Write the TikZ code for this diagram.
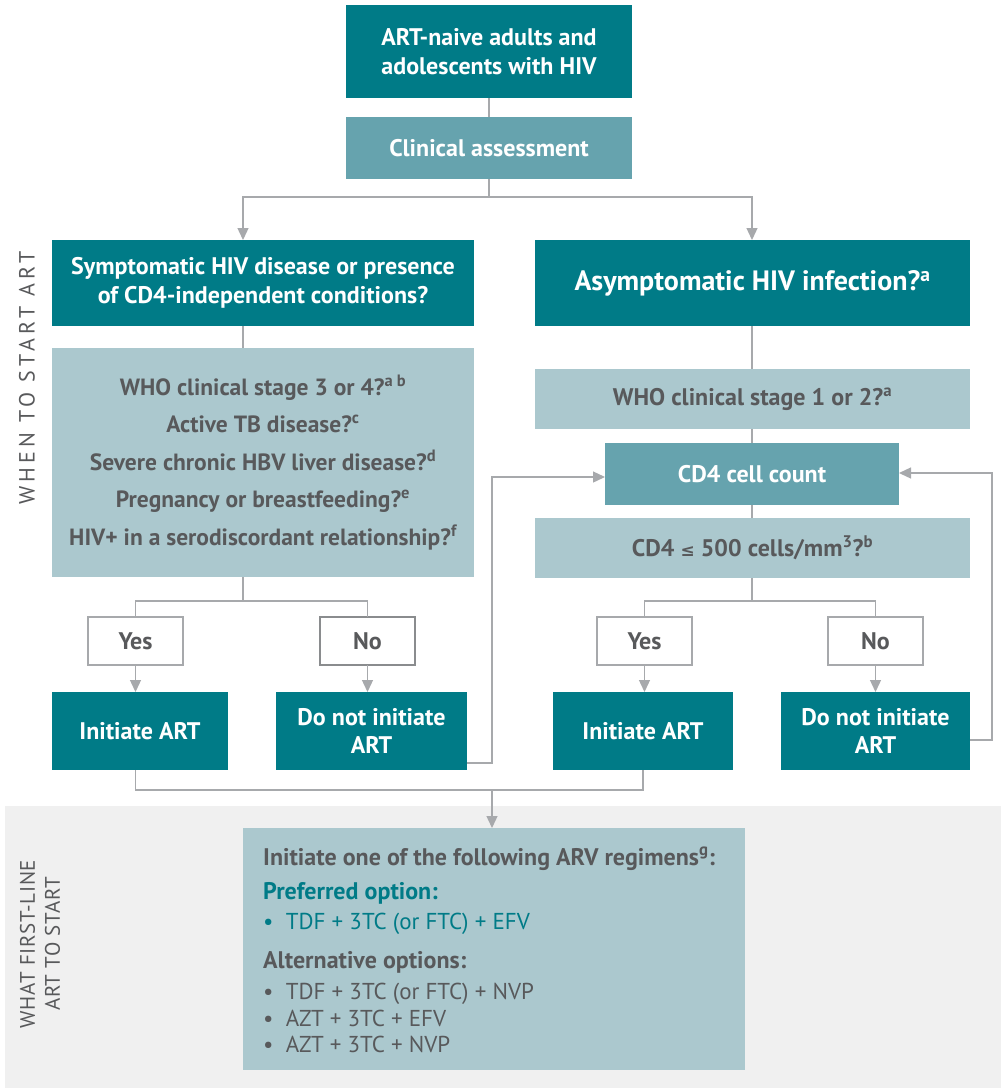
\documentclass[tikz,border=0pt]{standalone}
\usepackage{fontspec}
\setmainfont{PT Sans}
\newfontfamily\condfont{PT Sans}
\newfontfamily\spacedfont[LetterSpace=19]{PT Sans}
\newfontfamily\spacedfontb[LetterSpace=3]{PT Sans}
\newfontfamily\djv{DejaVu Sans}
\usetikzlibrary{arrows.meta}
\definecolor{dteal}{HTML}{007B87}
\definecolor{mteal}{HTML}{66A3AE}
\definecolor{lteal}{HTML}{ABC8CE}
\definecolor{tgrey}{HTML}{58595B}
\definecolor{lgrey}{HTML}{A7A9AC}
\definecolor{mgrey}{HTML}{8A8C8E}
\definecolor{bggrey}{HTML}{F0F0F0}
\begin{document}
\begin{tikzpicture}[x=1pt,y=-1pt,
  base/.style={inner sep=0pt, outer sep=0pt, align=center},
  dark/.style={base, fill=dteal, text=white, font=\bfseries\fontsize{24}{29.5}\selectfont},
  mid/.style={base, fill=mteal, text=white, font=\bfseries\fontsize{24}{29}\selectfont},
  light/.style={base, fill=lteal, text=tgrey, font=\bfseries\fontsize{23.5}{37.5}\selectfont},
  yn/.style={base, fill=white, draw=lgrey, line width=1.2pt, text=tgrey, font=\bfseries\fontsize{24}{28}\selectfont, minimum width=95pt, minimum height=48pt},
  conn/.style={draw=lgrey, line width=1.3pt},
  arr/.style={conn, -{Triangle[length=12pt,width=11pt]}},
  side/.style={base, rotate=90, text=tgrey, font=\spacedfont\fontsize{22}{24}\selectfont},
  sideb/.style={base, rotate=90, text=tgrey, font=\spacedfontb\fontsize{21}{25}\selectfont},
  btxt/.style={anchor=base west, inner sep=0pt, font=\condfont\fontsize{23}{27}\selectfont},
  bhead/.style={btxt, font=\condfont\bfseries\fontsize{24}{28}\selectfont},
]
\useasboundingbox (0,0) rectangle (1001,1088);

% background panel for bottom section
\fill[bggrey] (5,806) rectangle (1001,1088);

% side labels
\node[side] (lab1) at (27,378) {WHEN TO START ART};
\node[sideb] (lab2) at (40,944) {WHAT FIRST-LINE\\ART TO START};

% top
\node[dark, minimum width=286pt, minimum height=93pt] (top) at (489,51.5) {ART-naive adults and\\adolescents with HIV};
\node[mid, minimum width=286pt, minimum height=62pt] (clin) at (489,148) {Clinical assessment};

% second level
\node[dark, minimum width=422pt, minimum height=86pt, font=\bfseries\fontsize{24}{29}\selectfont] (lq) at (263,283) {Symptomatic HIV disease or presence\\of CD4-independent conditions?};
\node[dark, minimum width=435pt, minimum height=86pt, font=\bfseries\fontsize{28}{32}\selectfont] (rq) at (752.5,283) {Asymptomatic HIV infection?\textsuperscript{a}};

% left big box
\node[light, minimum width=422pt, minimum height=229pt] (bigl) at (263,462.5) {WHO clinical stage 3 or 4?\textsuperscript{a b}\\Active TB disease?\textsuperscript{c}\\Severe chronic HBV liver disease?\textsuperscript{d}\\Pregnancy or breastfeeding?\textsuperscript{e}\\HIV+ in a serodiscordant relationship?\textsuperscript{f}};

% right column
\node[light, minimum width=435pt, minimum height=60pt, font=\bfseries\fontsize{24}{28}\selectfont] (who) at (752.5,399) {WHO clinical stage 1 or 2?\textsuperscript{a}};
\node[mid, minimum width=294pt, minimum height=62pt] (cd4) at (752,474) {CD4 cell count};
\node[light, minimum width=435pt, minimum height=60pt, font=\bfseries\fontsize{24}{28}\selectfont] (cdle) at (752.5,548) {CD4 {\djv\bfseries\fontsize{17}{20}\selectfont ≤} 500 cells/mm\textsuperscript{3}?\textsuperscript{b}};

% yes/no
\node[yn] (yesl) at (135.5,641) {Yes};
\node[yn, draw=mgrey] (nol) at (367.5,641) {No};
\node[yn] (yesr) at (644.5,641) {Yes};
\node[yn] (nor) at (875.5,641) {No};

% outcomes
\node[dark, minimum width=176pt, minimum height=78pt] (initl) at (140,731) {Initiate ART};
\node[dark, minimum width=191pt, minimum height=78pt, font=\bfseries\fontsize{24}{28}\selectfont] (dnl) at (371.5,731) {Do not initiate\\ART};
\node[dark, minimum width=180pt, minimum height=78pt] (initr) at (643,731) {Initiate ART};
\node[dark, minimum width=189pt, minimum height=78pt, font=\bfseries\fontsize{24}{28}\selectfont] (dnr) at (875.5,731) {Do not initiate\\ART};

% bottom box
\node[base, fill=lteal, minimum width=502pt, minimum height=242pt] (bot) at (494,949) {};
\node[bhead, text=tgrey] (b1) at (263,865) {Initiate one of the following ARV regimens\textsuperscript{g}:};
\node[bhead, text=dteal] (b2) at (263,899) {Preferred option:};
\node[btxt, text=dteal] (b3) at (263,929) {\textbullet\ \ TDF + 3TC (or FTC) + EFV};
\node[bhead, text=tgrey] (b4) at (263,968) {Alternative options:};
\node[btxt, text=tgrey] (b5) at (263,999) {\textbullet\ \ TDF + 3TC (or FTC) + NVP};
\node[btxt, text=tgrey] (b6) at (263,1026) {\textbullet\ \ AZT + 3TC + EFV};
\node[btxt, text=tgrey] (b7) at (263,1052) {\textbullet\ \ AZT + 3TC + NVP};

% helper coordinates
\coordinate (lc) at (243,0);
\coordinate (rc) at (752,0);
\coordinate (s1) at (489,197);
\coordinate (s2) at (243,601);
\coordinate (s3) at (752,601);
\coordinate (s4) at (492,790);
\coordinate (fbl) at (492,0);
\coordinate (fbr) at (992,0);

% connectors
\draw[conn] (top) -- (clin);
\draw[conn] (clin.south) -- (s1);
\draw[arr] (s1) -| (lq.north -| lc);
\draw[arr] (s1) -| (rq.north -| rc);

\draw[conn] (lq.south -| lc) -- (bigl.north -| lc);
\draw[conn] (bigl.south -| lc) -- (s2);
\draw[conn] (yesl.north) |- (s2) -| (nol.north);
\draw[arr] (yesl.south) -- (yesl.south |- initl.north);
\draw[arr] (nol.south) -- (nol.south |- dnl.north);

\draw[conn] (rq.south -| rc) -- (who.north -| rc);
\draw[conn] (who.south -| rc) -- (cd4.north -| rc);
\draw[conn] (cd4.south -| rc) -- (cdle.north -| rc);
\draw[conn] (cdle.south -| rc) -- (s3);
\draw[conn] (yesr.north) |- (s3) -| (nor.north);
\draw[arr] (yesr.south) -- (yesr.south |- initr.north);
\draw[arr] (nor.south) -- (nor.south |- dnr.north);

\draw[arr] ([yshift=-32pt]dnl.east) -| ([yshift=-3pt]fbl |- cd4.west) -- ([yshift=-3pt]cd4.west);
\draw[arr] ([yshift=-9pt]dnr.east) -| ([yshift=1pt]fbr |- cd4.east) -- ([yshift=1pt]cd4.east);

\draw[conn] (yesl.south |- initl.south) |- (s4) -| (initr.south);
\draw[arr] (s4) -- (bot.north -| s4);
\end{tikzpicture}
\end{document}
